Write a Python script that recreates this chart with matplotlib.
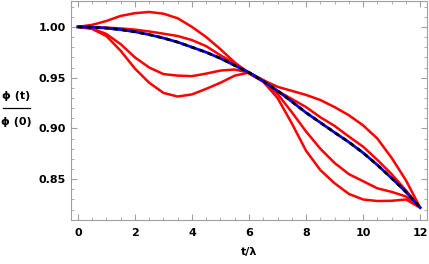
import numpy as np
import matplotlib
matplotlib.use("Agg")
import matplotlib.pyplot as plt
from matplotlib.ticker import MultipleLocator

t = np.arange(0, 12.5, 0.5)

# exact curve (black dashed) and approximation (blue)
exact = [1.000, 0.9997, 0.9988, 0.9973, 0.9952, 0.9924, 0.989, 0.985, 0.980,
         0.975, 0.969, 0.962, 0.955, 0.9465, 0.937, 0.9265, 0.9155, 0.9058,
         0.896, 0.8865, 0.876, 0.864, 0.851, 0.8375, 0.822]
approx = exact

# red curves
red1 = [1.000, 1.002, 1.0058, 1.0108, 1.0135, 1.0147, 1.013, 1.0085, 1.000,
        0.990, 0.978, 0.965, 0.954, 0.946, 0.930, 0.905, 0.878, 0.859,
        0.846, 0.8355, 0.830, 0.8285, 0.8287, 0.830, 0.822]
red2 = [1.000, 0.9998, 0.9993, 0.9985, 0.9973, 0.9955, 0.9933, 0.991, 0.987,
        0.981, 0.972, 0.964, 0.955, 0.947, 0.934, 0.916, 0.897, 0.880,
        0.866, 0.855, 0.848, 0.841, 0.8375, 0.833, 0.822]
red3 = [1.000, 0.9985, 0.993, 0.983, 0.970, 0.960, 0.9535, 0.952, 0.9515,
        0.954, 0.957, 0.958, 0.955, 0.9475, 0.937, 0.929, 0.921, 0.911,
        0.9025, 0.892, 0.882, 0.869, 0.855, 0.839, 0.822]
red4 = [1.000, 0.998, 0.991, 0.9765, 0.959, 0.945, 0.935, 0.9314, 0.9335,
        0.939, 0.945, 0.952, 0.955, 0.9475, 0.941, 0.937, 0.933, 0.928,
        0.921, 0.913, 0.903, 0.890, 0.871, 0.849, 0.822]

fig = plt.figure(figsize=(4.29, 2.64), dpi=100)
ax = fig.add_axes([71/429, 1-220/264, 356/429, 219/264])

for r in [red1, red2, red3, red4]:
    ax.plot(t, r, color='#ff0000', lw=1.8, solid_capstyle='round')
ax.plot(t, approx, color='#0000ff', lw=2.0)
ax.plot(t, exact, color='black', lw=2.0, dashes=(1.6, 1.6))

ax.set_xlim(-0.24, 12.24)
ax.set_ylim(0.8098, 1.0255)

ax.xaxis.set_major_locator(MultipleLocator(2))
ax.xaxis.set_minor_locator(MultipleLocator(0.5))
ax.yaxis.set_major_locator(MultipleLocator(0.05))
ax.yaxis.set_minor_locator(MultipleLocator(0.01))
ax.yaxis.set_major_formatter(plt.FuncFormatter(lambda v, p: f"{v:.2f}"))

gray = '#a0a0a0'
for s in ax.spines.values():
    s.set_color(gray)
    s.set_linewidth(0.8)
ax.tick_params(which='both', direction='in', color=gray, top=True, right=True,
               labelcolor='black', labelsize=8)
ax.tick_params(which='major', length=4, width=0.8)
ax.tick_params(which='minor', length=2, width=0.6)
for lab in ax.get_xticklabels() + ax.get_yticklabels():
    lab.set_family('DejaVu Sans')
    lab.set_fontweight('bold')
ax.tick_params(axis='x', pad=6)
ax.tick_params(axis='y', pad=4)

fnt = dict(family='DejaVu Sans', fontweight='bold', fontsize=8,
           ha='center', va='center')
ax.set_xlabel('t/λ', labelpad=6, family='DejaVu Sans', fontweight='bold', fontsize=8)
fig.text(16/429, 1-96/264, 'ϕ (t)', **fnt)
fig.text(16/429, 1-122/264, 'ϕ (0)', **fnt)
fig.add_artist(plt.Line2D([3/429, 30/429], [1-108/264, 1-108/264], color='black', lw=0.9))

fig.savefig('out.png', dpi=100)
